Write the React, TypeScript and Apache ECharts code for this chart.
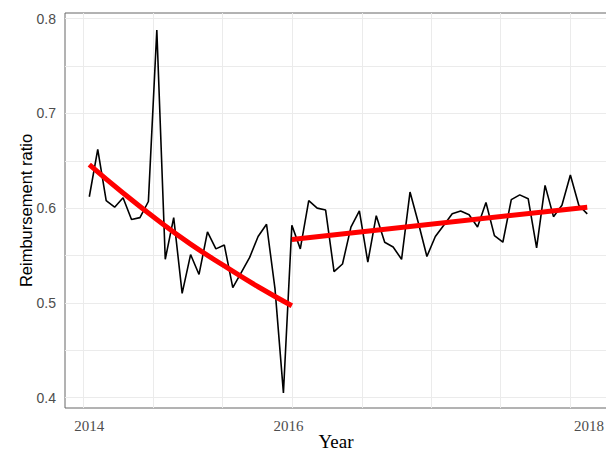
import React, { useEffect, useRef } from "react";
import * as echarts from "echarts";

// Monthly reimbursement ratio (month index 0..59)
const ratio: number[] = [
  0.612, 0.662, 0.608, 0.601, 0.611, 0.588, 0.59, 0.607, 0.788, 0.546,
  0.59, 0.51, 0.551, 0.53, 0.575, 0.557, 0.561, 0.516, 0.532, 0.548,
  0.57, 0.583, 0.515, 0.405, 0.582, 0.557, 0.608, 0.6, 0.598, 0.533,
  0.541, 0.58, 0.597, 0.543, 0.592, 0.564, 0.559, 0.546, 0.617, 0.584,
  0.549, 0.57, 0.582, 0.594, 0.597, 0.593, 0.58, 0.606, 0.571, 0.564,
  0.609, 0.614, 0.61, 0.558, 0.624, 0.591, 0.603, 0.635, 0.603, 0.594,
];

// Fitted trend before the break (read at month indices)
const fit1Months: number[] = [0, 4, 8, 12, 16, 20, 24];
const fit1Values: number[] = [0.646, 0.616, 0.588, 0.562, 0.539, 0.517, 0.497];
// Fitted trend after the break
const fit2Months: number[] = [24, 59];
const fit2Values: number[] = [0.567, 0.601];

// Axis ticks
const xTickValues: number[] = [0, 23.6, 59.2];
const xTickLabels: string[] = ["2014", "2016", "2018"];
const xGridValues: number[] = [-0.7, 7.6, 15.8, 24.0, 32.3, 40.5, 48.7, 57.0];
const yTickValues: number[] = [0.4, 0.5, 0.6, 0.7, 0.8];
const yGridValues: number[] = [0.4, 0.45, 0.5, 0.55, 0.6, 0.65, 0.7, 0.75, 0.8];

export default function App() {
  const ref = useRef<HTMLDivElement>(null);
  useEffect(() => {
    if (!ref.current) return;
    const chart = echarts.init(ref.current, null, { renderer: "svg" });
    const gridLineStyle = { color: "#ebebeb", width: 1, type: "solid" as const };
    const markLines = [
      ...xGridValues.map((v) => ({ xAxis: v })),
      ...yGridValues.map((v) => ({ yAxis: v })),
    ];
    chart.setOption({
      animation: false,
      backgroundColor: "#ffffff",
      grid: {
        left: 65,
        right: -1,
        top: 13,
        bottom: 43,
        outerBoundsMode: "none",
        containLabel: false,
        show: true,
        borderColor: "#666666",
        borderWidth: 1,
        backgroundColor: "transparent",
      },
      xAxis: {
        type: "value",
        min: -2.88,
        max: 61.34,
        splitLine: { show: false },
        axisLine: { show: false },
        axisTick: { show: false },
        axisLabel: {
          customValues: xTickValues,
          formatter: (v: number) => {
            const i = xTickValues.findIndex((t) => Math.abs(t - v) < 1e-6);
            return i >= 0 ? xTickLabels[i] : "";
          },
          color: "#4d4d4d",
          fontFamily: "Liberation Serif",
          fontSize: 15,
          margin: 10,
        },
        name: "Year",
        nameLocation: "middle",
        nameGap: 24,
        nameMoveOverlap: false,
        nameTextStyle: {
          color: "#000000",
          fontFamily: "Liberation Serif",
          fontSize: 19,
        },
      },
      yAxis: {
        type: "value",
        min: 0.389,
        max: 0.806,
        splitLine: { show: false },
        axisLine: { show: false },
        axisTick: { show: false },
        axisLabel: {
          customValues: yTickValues,
          formatter: (v: number) => v.toFixed(1),
          color: "#4d4d4d",
          fontFamily: "Liberation Sans",
          fontSize: 14,
          margin: 9,
        },
        name: "Reimbursement ratio",
        nameLocation: "middle",
        nameGap: 31,
        nameMoveOverlap: false,
        nameTextStyle: {
          color: "#000000",
          fontFamily: "Liberation Sans",
          fontSize: 16.5,
        },
      },
      series: [
        {
          type: "line",
          data: [],
          silent: true,
          markLine: {
            silent: true,
            symbol: "none",
            label: { show: false },
            lineStyle: gridLineStyle,
            data: markLines,
            z: 1,
          },
        },
        {
          type: "line",
          data: ratio.map((v, i) => [i, v]),
          showSymbol: false,
          lineStyle: { color: "#000000", width: 1.6 },
          z: 3,
        },
        {
          type: "line",
          data: fit1Months.map((m, i) => [m, fit1Values[i]]),
          smooth: true,
          showSymbol: false,
          lineStyle: { color: "#ff0000", width: 5 },
          z: 4,
        },
        {
          type: "line",
          data: fit2Months.map((m, i) => [m, fit2Values[i]]),
          showSymbol: false,
          lineStyle: { color: "#ff0000", width: 5 },
          z: 4,
        },
      ],
    });
    return () => chart.dispose();
  }, []);
  return (
    <div
      ref={ref}
      style={{ position: "fixed", left: 0, top: 0, width: 606, height: 451 }}
    />
  );
}
